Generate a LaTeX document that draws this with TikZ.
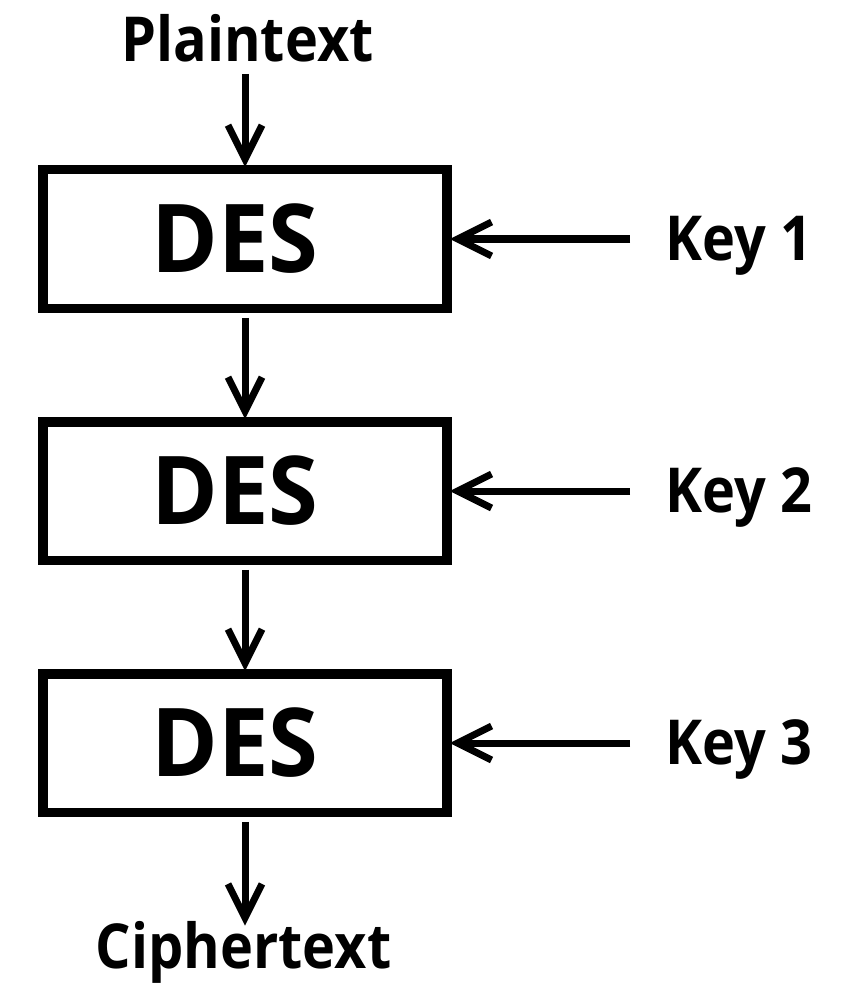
\documentclass[tikz,border=0pt]{standalone}
\usepackage{fontspec}
\setmainfont{Open Sans}
\newfontfamily\lblfont{Open Sans}[FakeStretch=0.9]
\newfontfamily\desfont{Open Sans}[FakeStretch=0.95]
\usetikzlibrary{arrows.meta}
\begin{document}
\begin{tikzpicture}[x=1pt,y=-1pt,
  desbox/.style={draw,line width=9.5pt,minimum width=404pt,minimum height=138.5pt,inner sep=0pt,font=\desfont\fontsize{95}{100}\selectfont\bfseries},
  lbl/.style={inner sep=0pt,font=\lblfont\fontsize{62}{66}\selectfont\bfseries},
  conn/.style={line width=7pt,-{Straight Barb[length=34pt,width=34pt]}}]
\useasboundingbox (0,0) rectangle (854,1000);
\node[desbox] (d1) at (245,239) {DES\kern20pt};
\node[desbox] (d2) at (245,491) {DES\kern20pt};
\node[desbox] (d3) at (245,743) {DES\kern20pt};
\node[lbl,anchor=base] (pt) at (247.5,62) {Plaintext};
\node[lbl,anchor=base] (ct) at (243.5,968) {Ciphertext};
\node[lbl,anchor=base west] (k1) at (665,260) {Key 1};
\node[lbl,anchor=base west] (k2) at (665,512) {Key 2};
\node[lbl,anchor=base west] (k3) at (665,764) {Key 3};
\draw[conn,shorten <=11pt,shorten >=-2pt] (pt.south -| d1.north) -- (d1.north);
\draw[conn,shorten <=4.75pt,shorten >=-2pt] (d1.south) -- (d2.north);
\draw[conn,shorten <=4.75pt,shorten >=-2pt] (d2.south) -- (d3.north);
\draw[conn,shorten <=4.75pt,shorten >=-5pt] (d3.south) -- (d3.south |- ct.north);
\draw[conn,shorten <=35pt,shorten >=-2pt] (d1.east -| k1.west) -- (d1.east);
\draw[conn,shorten <=35pt,shorten >=-2pt] (d2.east -| k2.west) -- (d2.east);
\draw[conn,shorten <=35pt,shorten >=-2pt] (d3.east -| k3.west) -- (d3.east);
\end{tikzpicture}
\end{document}
